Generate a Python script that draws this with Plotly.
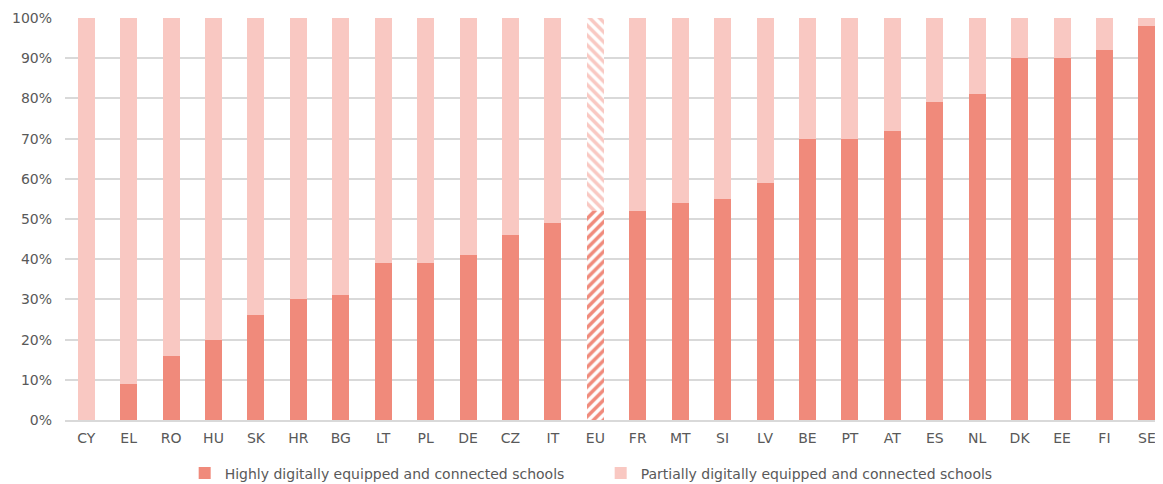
import plotly.graph_objects as go

countries = ["CY", "EL", "RO", "HU", "SK", "HR", "BG", "LT", "PL", "DE", "CZ", "IT", "EU",
             "FR", "MT", "SI", "LV", "BE", "PT", "AT", "ES", "NL", "DK", "EE", "FI", "SE"]
highly = [0, 9, 16, 20, 26, 30, 31, 39, 39, 41, 46, 49, 52,
          52, 54, 55, 59, 70, 70, 72, 79, 81, 90, 90, 92, 98]
partially = [100 - v for v in highly]

C_HIGH = "#F08A7B"
C_PART = "#F9C8C2"
FONT = "DejaVu Sans, Verdana, sans-serif"

def pattern_for(shape_eu, color):
    shapes = [shape_eu if c == "EU" else "" for c in countries]
    fg = [color for c in countries]
    bg = ["white" for c in countries]
    return dict(shape=shapes, fgcolor=fg, bgcolor=bg,
                size=7, solidity=0.5, fillmode="replace")

fig = go.Figure()
fig.add_trace(go.Bar(x=countries, y=[v / 100 for v in highly],
                     name="Highly digitally equipped and connected schools",
                     marker=dict(color=C_HIGH, pattern=pattern_for("/", C_HIGH), line=dict(width=0))))
fig.add_trace(go.Bar(x=countries, y=[v / 100 for v in partially],
                     name="Partially digitally equipped and connected schools",
                     marker=dict(color=C_PART, pattern=pattern_for("\\", C_PART), line=dict(width=0))))

fig.update_layout(
    barmode="stack",
    bargap=0.6,
    width=1155, height=476,
    margin=dict(l=57, r=0, t=10, b=64, autoexpand=False),
    plot_bgcolor="white", paper_bgcolor="white",
    font=dict(family=FONT, size=14, color="#595959"),
    showlegend=True,
    legend=dict(orientation="h", x=0.109, xanchor="left", y=-0.133, yanchor="middle",
                font=dict(size=14, color="#595959"), traceorder="normal",
                itemwidth=30, entrywidth=371, entrywidthmode="pixels"),
    xaxis=dict(range=[-0.5, 25.38], showgrid=False, showline=True, linecolor="#D9D9D9",
               linewidth=1.5, ticks="", ticklabelstandoff=4,
               tickfont=dict(size=14, color="#595959")),
    yaxis=dict(range=[0, 1], tickformat=".0%", dtick=0.1, showgrid=True,
               gridcolor="#D9D9D9", gridwidth=1.5, zeroline=False, ticks="",
               ticklabelstandoff=12, tickfont=dict(size=14, color="#595959")),
)

fig.write_html("out.html")
